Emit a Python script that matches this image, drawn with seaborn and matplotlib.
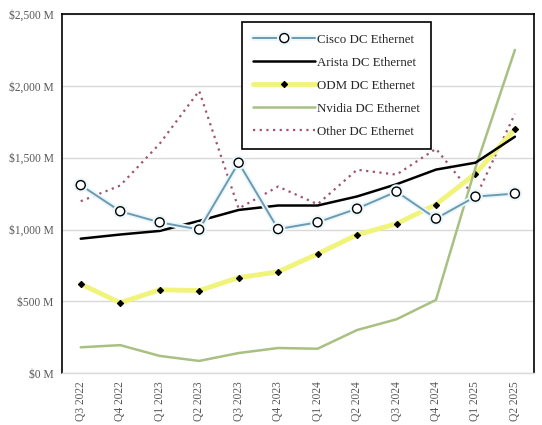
import pandas as pd
import numpy as np
import matplotlib
matplotlib.use("Agg")
import matplotlib.pyplot as plt
import matplotlib.patheffects as pe
import seaborn as sns
from matplotlib.ticker import FuncFormatter

# Data (US$ millions)
quarters = ['Q3 2022', 'Q4 2022', 'Q1 2023', 'Q2 2023', 'Q3 2023', 'Q4 2023',
            'Q1 2024', 'Q2 2024', 'Q3 2024', 'Q4 2024', 'Q1 2025', 'Q2 2025']
cisco = [1309, 1127, 1050, 1000, 1465, 1003, 1050, 1145, 1264, 1076, 1229, 1250]
arista = [936, 965, 990, 1060, 1136, 1167, 1167, 1230, 1315, 1417, 1465, 1646]
odm = [620, 490, 580, 575, 665, 705, 830, 963, 1040, 1174, 1389, 1700]
nvidia = [180, 195, 120, 85, 140, 175, 170, 300, 375, 510, 1430, 2250]
other = [1197, 1306, 1597, 1965, 1146, 1299, 1176, 1416, 1382, 1562, 1220, 1805]

df = pd.DataFrame({'pos': np.arange(len(quarters)), 'quarter': quarters,
                   'Cisco DC Ethernet': cisco, 'Arista DC Ethernet': arista,
                   'ODM DC Ethernet': odm, 'Nvidia DC Ethernet': nvidia,
                   'Other DC Ethernet': other})

sns.set_style("white")
plt.rcParams['font.family'] = ['Liberation Serif', 'DejaVu Serif']

fig = plt.figure(figsize=(5.42, 4.25), dpi=100)
ax = fig.add_axes([0.114, 0.122, 0.871, 0.845])

ax.yaxis.grid(True, color='#d9d9d9', linewidth=1)
ax.set_axisbelow(True)

sns.lineplot(data=df, x='pos', y='Cisco DC Ethernet', ax=ax, color='#6d9ab0', linewidth=1.4,
             marker='o', markersize=6.5, markerfacecolor='white', markeredgecolor='black',
             markeredgewidth=1, label='Cisco DC Ethernet', zorder=5,
             path_effects=[pe.Stroke(linewidth=4, foreground='#eaf7fb'), pe.Normal()])
sns.lineplot(data=df, x='pos', y='Arista DC Ethernet', ax=ax, color='black', linewidth=1.8,
             label='Arista DC Ethernet', zorder=4)
sns.lineplot(data=df, x='pos', y='ODM DC Ethernet', ax=ax, color='#f0f47a', linewidth=3.5,
             marker='D', markersize=3.2, markerfacecolor='black', markeredgecolor='black',
             label='ODM DC Ethernet', zorder=3)
sns.lineplot(data=df, x='pos', y='Nvidia DC Ethernet', ax=ax, color='#a8c081', linewidth=1.8,
             label='Nvidia DC Ethernet', zorder=3)
sns.lineplot(data=df, x='pos', y='Other DC Ethernet', ax=ax, color='#9e5474', linewidth=1.6,
             linestyle=(0, (1, 2)), label='Other DC Ethernet', zorder=2)

ax.set_xlim(-0.48, len(quarters) - 0.52)
ax.set_ylim(0, 2500)
ax.set_yticks(range(0, 2501, 500))
ax.yaxis.set_major_formatter(FuncFormatter(lambda v, p: f'${v:,.0f} M'))
ax.set_xticks(df['pos'])
ax.set_xticklabels(quarters, rotation=90)
ax.tick_params(axis='both', length=0, labelsize=8.3, colors='#595959', pad=6)
ax.set_xlabel('')
ax.set_ylabel('')

for s in ['left', 'top', 'right']:
    ax.spines[s].set_color('black')
    ax.spines[s].set_linewidth(1.2)
ax.spines['bottom'].set_color('#d9d9d9')
ax.spines['bottom'].set_linewidth(1)

leg = ax.legend(loc='upper left', bbox_to_anchor=(0.381, 0.978), fontsize=9.3,
                frameon=True, fancybox=False, edgecolor='black', framealpha=1,
                borderpad=0.9, labelspacing=0.85, handlelength=4.8, handletextpad=0.1,
                borderaxespad=0)
leg.get_frame().set_linewidth(1.2)

fig.savefig('out.png', dpi=100)
